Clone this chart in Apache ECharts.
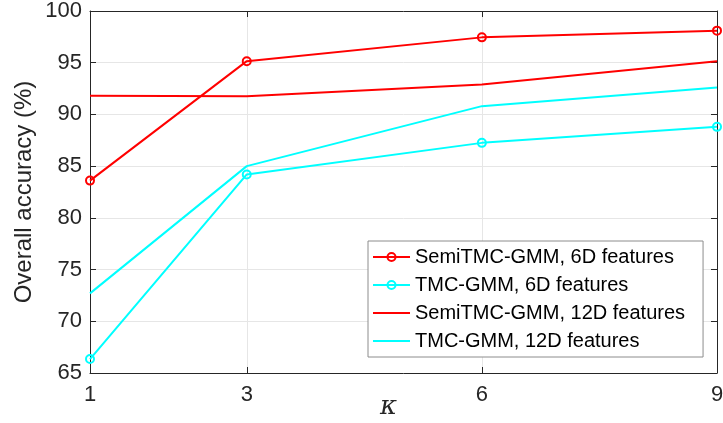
<!DOCTYPE html>
<html>
<head>
<meta charset="utf-8">
<script src="https://cdn.jsdelivr.net/npm/echarts@6/dist/echarts.min.js"></script>
<style>html,body{margin:0;padding:0;background:#fff}#c{width:723px;height:423px}</style>
</head>
<body>
<div id="c"></div>
<script>
const kappa = [1, 3, 6, 9];
const semi6D = [83.6, 95.15, 97.45, 98.1];
const tmc6D = [66.35, 84.2, 87.25, 88.8];
const semi12D = [91.8, 91.75, 92.9, 95.15];
const tmc12D = [72.7, 85.0, 90.8, 92.6];
const xTicks = [1, 3, 6, 9];
const seriesNames = ['SemiTMC-GMM, 6D features', 'TMC-GMM, 6D features', 'SemiTMC-GMM, 12D features', 'TMC-GMM, 12D features'];

const RED = '#ff0000', CYAN = '#00ffff', AX = '#262626';
const font = '"Liberation Sans", Arial, Helvetica, sans-serif';
function pts(v) { return kappa.map((k, i) => [k, v[i]]); }
function mk(name, data, color, marker) {
  return {
    name, type: 'line', data: pts(data), color,
    symbol: marker ? 'circle' : 'none', symbolSize: 8, showSymbol: !!marker,
    lineStyle: { color, width: 2 },
    itemStyle: { color: 'rgba(255,255,255,0)', borderColor: color, borderWidth: 2 },
    emphasis: { disabled: true }, animation: false, z: 3
  };
}
const chart = echarts.init(document.getElementById('c'), null, { renderer: 'canvas' });
const axisCommon = {
  axisLine: { show: true, lineStyle: { color: AX, width: 1 } },
  axisTick: { show: true, inside: true, length: 6, lineStyle: { color: AX } },
};
const hiddenIcon = { color: 'rgba(0,0,0,0)', borderWidth: 0, borderColor: 'rgba(0,0,0,0)' };
chart.setOption({
  animation: false,
  backgroundColor: '#fff',
  grid: { left: 90, right: 6, top: 11, bottom: 50, outerBoundsMode: 'none', containLabel: false },
  legend: {
    data: [
      { name: seriesNames[0] },
      { name: seriesNames[1] },
      { name: seriesNames[2], itemStyle: hiddenIcon },
      { name: seriesNames[3], itemStyle: hiddenIcon }
    ],
    orient: 'vertical', left: 368, top: 241,
    backgroundColor: '#fff', borderColor: '#8c8c8c', borderWidth: 1,
    padding: [6, 18, 6, 4],
    itemWidth: 37, itemHeight: 10, itemGap: 8,
    textStyle: { fontFamily: font, fontSize: 20, color: '#000' },
    selectedMode: false
  },
  xAxis: [{
    type: 'value', min: 1, max: 9,
    ...axisCommon,
    axisLabel: { fontFamily: font, fontSize: 22, color: AX, margin: 11, customValues: xTicks },
    axisTick: { ...axisCommon.axisTick, customValues: xTicks },
    splitLine: { show: true, lineStyle: { color: '#e6e6e6', width: 1 } },
    name: 'κ', nameLocation: 'middle', nameGap: 21, nameMoveOverlap: false,
    nameTextStyle: { fontFamily: '"DejaVu Serif", "Liberation Serif", serif', fontStyle: 'italic', fontSize: 26, color: AX, padding: [0, 30, 0, 0] }
  }, {
    type: 'value', min: 1, max: 9, position: 'top',
    ...axisCommon,
    axisTick: { ...axisCommon.axisTick, customValues: xTicks },
    axisLabel: { show: false, customValues: xTicks },
    splitLine: { show: false }
  }],
  yAxis: [{
    type: 'value', min: 65, max: 100, interval: 5,
    ...axisCommon,
    axisLabel: { fontFamily: font, fontSize: 22, color: AX, margin: 8 },
    splitLine: { show: true, lineStyle: { color: '#e6e6e6', width: 1 } },
    name: 'Overall accuracy (%)', nameLocation: 'middle', nameGap: 54, nameMoveOverlap: false,
    nameTextStyle: { fontFamily: font, fontSize: 24, color: AX }
  }, {
    type: 'value', min: 65, max: 100, interval: 5, position: 'right',
    ...axisCommon,
    axisLabel: { show: false },
    splitLine: { show: false }
  }],
  series: [
    mk(seriesNames[0], semi6D, RED, true),
    mk(seriesNames[1], tmc6D, CYAN, true),
    mk(seriesNames[2], semi12D, RED, false),
    mk(seriesNames[3], tmc12D, CYAN, false)
  ]
});
</script>
</body>
</html>
